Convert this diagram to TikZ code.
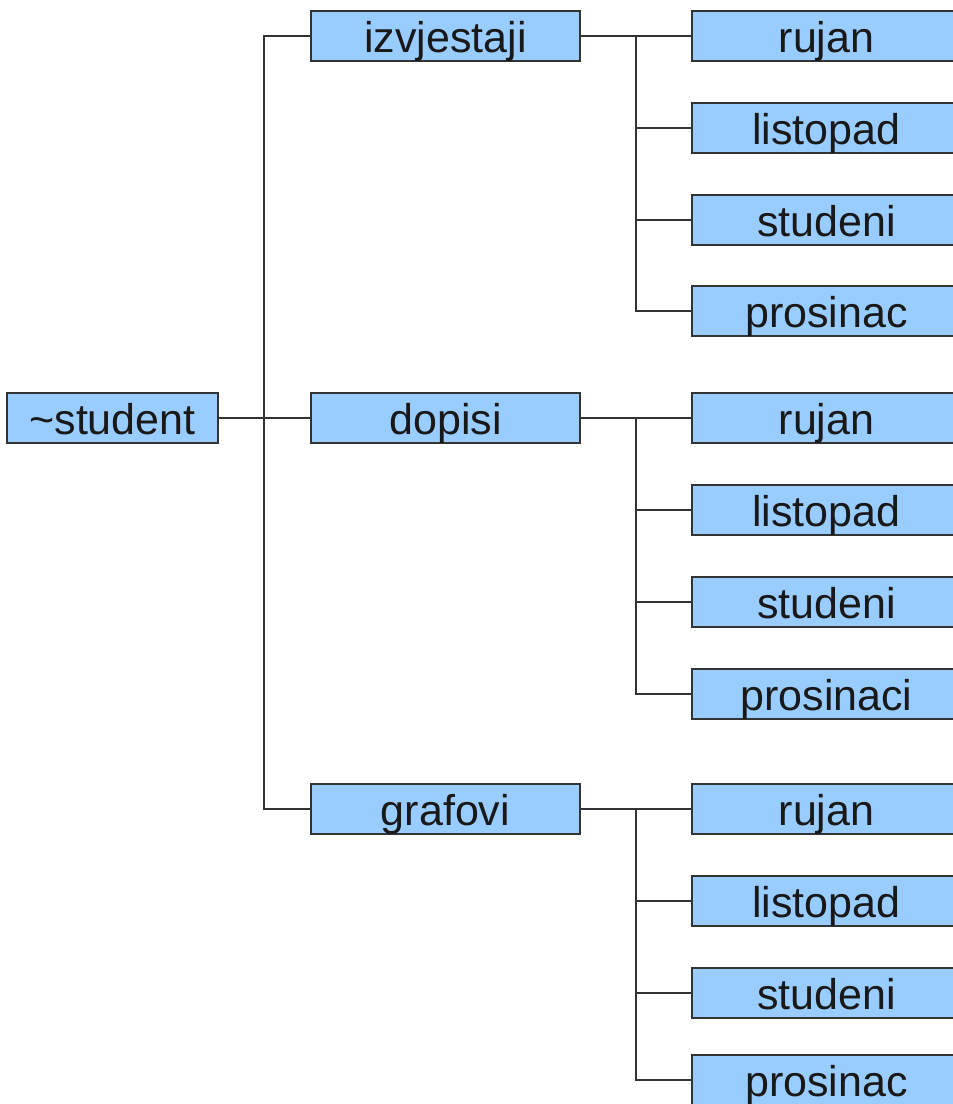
\documentclass[tikz,border=0pt]{standalone}
\usepackage{fontspec}
\setmainfont{Liberation Sans}
\definecolor{boxfill}{HTML}{99CCFF}
\definecolor{edge}{HTML}{333333}
\begin{document}
\begin{tikzpicture}[x=1pt,y=-1pt,
  box/.style={draw=edge,fill=boxfill,line width=1.4pt,inner sep=0pt,
    minimum height=50pt,text height=41pt,text depth=9pt,
    font=\fontsize{43}{48}\selectfont,text=black!90},
  wbox/.style={box,minimum width=269pt},
  conn/.style={draw=edge,line width=1.4pt}]
\useasboundingbox (0,0) rectangle (953,1104);
\clip (0,0) rectangle (953,1104);
\node[box,minimum width=211pt] (st) at (112.5,418) {\char`\~student};
\node[wbox] (m1) at (445.5,36) {izvjestaji};
\node[wbox] (m2) at (445.5,418) {dopisi};
\node[wbox] (m3) at (445.5,809) {grafovi};
\node[wbox] (a1) at (826.5,36) {rujan};
\node[wbox] (a2) at (826.5,128) {listopad};
\node[wbox] (a3) at (826.5,220) {studeni};
\node[wbox] (a4) at (826.5,311) {prosinac};
\node[wbox] (b1) at (826.5,418) {rujan};
\node[wbox] (b2) at (826.5,510) {listopad};
\node[wbox] (b3) at (826.5,602) {studeni};
\node[wbox] (b4) at (826.5,694) {prosinaci};
\node[wbox] (c1) at (826.5,809) {rujan};
\node[wbox] (c2) at (826.5,901) {listopad};
\node[wbox] (c3) at (826.5,993) {studeni};
\node[wbox] (c4) at (826.5,1080) {prosinac};
\coordinate (t) at (264,0);
\coordinate (j) at (636,0);
\draw[conn] (st.east) -- (m2.west);
\draw[conn] (m1.west) -- (m1.west -| t) -- (m3.west -| t) -- (m3.west);
\foreach \m/\g in {m1/a,m2/b,m3/c}{
  \draw[conn] (\m.east) -- (\g1.west);
  \draw[conn] (\g1.west -| j) -- (\g4.west -| j) -- (\g4.west);
  \draw[conn] (\g2.west -| j) -- (\g2.west);
  \draw[conn] (\g3.west -| j) -- (\g3.west);
}
\end{tikzpicture}
\end{document}
